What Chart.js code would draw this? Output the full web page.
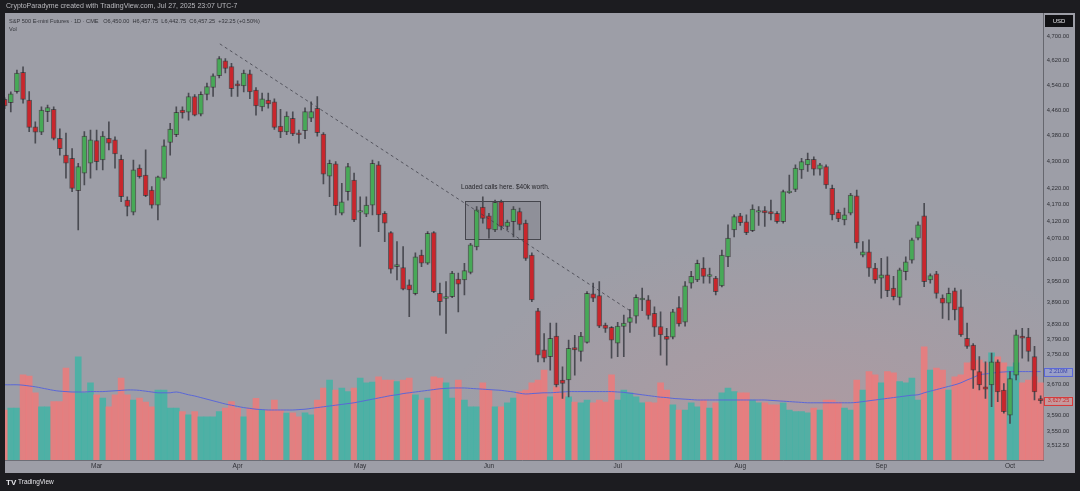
<!DOCTYPE html>
<html>
<head>
<meta charset="utf-8">
<script src="https://cdn.jsdelivr.net/npm/chart.js@4.4.1/dist/chart.umd.min.js"></script>
<style>
  html, body { margin: 0; padding: 0; background: #1c1c20; }
  canvas { display: block; }
</style>
</head>
<body>
<canvas id="chart" width="1080" height="491"></canvas>
<script>
// ─── DATA ────────────────────────────────────────────────────

// trading days (categories)
const days = [
  '2022-02-07','2022-02-08','2022-02-09','2022-02-10','2022-02-11','2022-02-14','2022-02-15','2022-02-16','2022-02-17','2022-02-18',
  '2022-02-22','2022-02-23','2022-02-24','2022-02-25','2022-02-28',
  '2022-03-01','2022-03-02','2022-03-03','2022-03-04','2022-03-07','2022-03-08','2022-03-09','2022-03-10','2022-03-11','2022-03-14',
  '2022-03-15','2022-03-16','2022-03-17','2022-03-18','2022-03-21','2022-03-22','2022-03-23','2022-03-24','2022-03-25','2022-03-28',
  '2022-03-29','2022-03-30','2022-03-31',
  '2022-04-01','2022-04-04','2022-04-05','2022-04-06','2022-04-07','2022-04-08','2022-04-11','2022-04-12','2022-04-13','2022-04-14',
  '2022-04-18','2022-04-19','2022-04-20','2022-04-21','2022-04-22','2022-04-25','2022-04-26','2022-04-27','2022-04-28','2022-04-29',
  '2022-05-02','2022-05-03','2022-05-04','2022-05-05','2022-05-06','2022-05-09','2022-05-10','2022-05-11','2022-05-12','2022-05-13',
  '2022-05-16','2022-05-17','2022-05-18','2022-05-19','2022-05-20','2022-05-23','2022-05-24','2022-05-25','2022-05-26','2022-05-27',
  '2022-05-31',
  '2022-06-01','2022-06-02','2022-06-03','2022-06-06','2022-06-07','2022-06-08','2022-06-09','2022-06-10','2022-06-13','2022-06-14',
  '2022-06-15','2022-06-16','2022-06-17','2022-06-21','2022-06-22','2022-06-23','2022-06-24','2022-06-27','2022-06-28','2022-06-29',
  '2022-06-30',
  '2022-07-01','2022-07-05','2022-07-06','2022-07-07','2022-07-08','2022-07-11','2022-07-12','2022-07-13','2022-07-14','2022-07-15',
  '2022-07-18','2022-07-19','2022-07-20','2022-07-21','2022-07-22','2022-07-25','2022-07-26','2022-07-27','2022-07-28','2022-07-29',
  '2022-08-01','2022-08-02','2022-08-03','2022-08-04','2022-08-05','2022-08-08','2022-08-09','2022-08-10','2022-08-11','2022-08-12',
  '2022-08-15','2022-08-16','2022-08-17','2022-08-18','2022-08-19','2022-08-22','2022-08-23','2022-08-24','2022-08-25','2022-08-26',
  '2022-08-29','2022-08-30','2022-08-31',
  '2022-09-01','2022-09-02','2022-09-06','2022-09-07','2022-09-08','2022-09-09','2022-09-12','2022-09-13','2022-09-14','2022-09-15',
  '2022-09-16','2022-09-19','2022-09-20','2022-09-21','2022-09-22','2022-09-23','2022-09-26','2022-09-27','2022-09-28','2022-09-29',
  '2022-09-30',
  '2022-10-03','2022-10-04','2022-10-05','2022-10-06','2022-10-07','2022-10-10'
];

const opens = [
  4495,4484,4520,4582,4493,4408,4391,4456,4463,4372, 4320,4310,4212,4265,4295,4365,4305,4372,4367,4307,
  4184,4148,4280,4259,4214,4169,4249,4359,4383,4461, 4454,4504,4448,4511,4533,4571,4620,4601,4545,4538,
  4577,4525,4471,4493,4487,4410,4392,4435,4389,4396, 4435,4466,4385,4256,4293,4145,4209,4244,4148,4142,
  4169,4290,4145,4088,3990,3988,3939,3914,4023,4000, 4088,3915,3901,3906,3955,3953,3974,4047,4163,4137,
  4096,4179,4106,4120,4150,4116,4023,3867,3761,3743, 3798,3681,3681,3767,3757,3781,3914,3909,3828,3822,
  3779,3824,3835,3852,3897,3897,3860,3824,3797,3795, 3876,3836,3944,3953,3986,3963,3958,3936,4018,4096,
  4137,4120,4094,4148,4153,4150,4145,4120,4206,4216, 4275,4290,4307,4277,4285,4219,4148,4125,4145,4197,
  4023,4033,3986,3958,3967,3930,3904,3976,4009,4072, 4137,3953,3970,3902,3888,3922,3878,3792,3774,3703,
  3663,3668,3729,3655,3590,3694,3798,3795,3743,3633
];
const highs = [
  4500,4519,4590,4600,4520,4424,4471,4477,4471,4402, 4388,4340,4295,4393,4398,4398,4393,4424,4377,4320,
  4194,4305,4290,4336,4224,4256,4367,4419,4471,4471, 4515,4510,4519,4547,4577,4634,4627,4612,4555,4590,
  4590,4533,4515,4515,4497,4463,4455,4455,4398,4468, 4487,4504,4390,4305,4300,4234,4295,4265,4194,4194,
  4305,4300,4150,4091,4062,4048,3953,4030,4038,4091, 4091,3944,3948,3977,3972,4000,4057,4165,4194,4145,
  4184,4184,4125,4165,4160,4125,4030,3874,3805,3833, 3833,3716,3787,3800,3808,3920,3944,3948,3833,3824,
  3835,3855,3871,3911,3930,3909,3878,3864,3819,3871, 3906,3948,3977,4009,4016,3986,3963,4038,4111,4140,
  4145,4140,4170,4165,4165,4184,4150,4214,4259,4290, 4310,4326,4315,4295,4290,4229,4155,4160,4204,4214,
  4062,4067,4000,4014,4018,3963,3986,4018,4072,4120, 4174,3970,3977,3911,3930,3930,3925,3833,3778,3743,
  3729,3752,3734,3672,3703,3814,3819,3819,3770,3640
];
const lows = [
  4465,4455,4515,4483,4393,4357,4383,4424,4367,4320, 4250,4209,4096,4229,4250,4275,4275,4336,4280,4179,
  4137,4140,4250,4194,4160,4125,4244,4320,4377,4435, 4429,4442,4442,4493,4504,4564,4580,4504,4504,4519,
  4497,4445,4458,4467,4400,4374,4383,4380,4357,4371, 4424,4379,4232,4194,4140,4140,4184,4120,4048,4135,
  4140,4091,4062,3972,3953,3925,3851,3911,3990,3997, 3917,3855,3805,3903,3864,3911,3970,4038,4116,4072,
  4091,4096,4096,4076,4096,4008,3892,3729,3729,3707, 3663,3633,3637,3694,3731,3779,3892,3821,3808,3739,
  3743,3743,3808,3833,3867,3844,3797,3747,3720,3790, 3825,3825,3930,3948,3944,3944,3911,3933,3990,4076,
  4109,4082,4091,4109,4106,4125,4116,4116,4204,4209, 4249,4270,4259,4259,4219,4125,4120,4111,4140,4043,
  4018,3963,3944,3902,3906,3897,3883,3953,4000,4067, 3934,3944,3902,3846,3842,3842,3797,3765,3659,3655,
  3633,3612,3625,3595,3569,3681,3739,3731,3629,3620
];
const closes = [
  4474,4513,4580,4495,4406,4391,4461,4469,4372,4340, 4295,4219,4285,4379,4367,4300,4379,4357,4324,4194,
  4165,4275,4254,4197,4169,4254,4349,4401,4454,4452, 4504,4445,4511,4536,4571,4627,4595,4529,4538,4580,
  4519,4474,4497,4480,4406,4392,4442,4386,4383,4456, 4456,4390,4262,4295,4167,4179,4285,4125,4153,4169,
  4295,4140,4116,3983,3996,3927,3925,4018,4000,4086, 3920,3892,3906,3972,3941,3979,4053,4155,4130,4098,
  4177,4106,4119,4157,4112,4014,3897,3747,3739,3792, 3668,3672,3765,3761,3798,3915,3902,3825,3819,3787,
  3825,3833,3848,3904,3902,3854,3822,3801,3789,3864, 3831,3936,3963,4000,3963,3968,3920,4023,4072,4135,
  4117,4088,4157,4153,4146,4143,4120,4209,4211,4280, 4300,4307,4277,4290,4229,4140,4128,4140,4199,4058,
  4033,3986,3953,3967,3923,3906,3981,4004,4067,4111, 3948,3965,3915,3888,3915,3869,3801,3770,3707,3668,
  3657,3729,3650,3599,3685,3801,3792,3757,3650,3627.25
];

// volume, millions
const volumes = [
  1.25,1.30,1.30,2.13,2.10,1.68,1.33,1.33,1.46,1.46, 2.30,1.68,2.58,1.68,1.93,1.63,1.55,1.33,1.63,2.05,
  1.63,1.50,1.55,1.45,1.33,1.75,1.75,1.30,1.30,1.21, 1.13,1.21,1.08,1.08,1.08,1.21,1.30,1.46,1.30,1.08,
  1.30,1.54,1.25,1.25,1.50,1.25,1.17,1.18,1.08,1.18, 1.13,1.50,1.80,2.00,1.75,1.80,1.71,1.80,2.05,1.93,
  1.95,2.08,2.00,2.00,1.96,2.00,2.05,1.63,1.50,1.55, 2.08,2.05,1.93,1.55,2.00,1.50,1.33,1.33,1.93,1.75,
  1.33,1.33,1.43,1.55,1.71,1.75,1.93,2.00,2.25,1.58, 1.83,1.68,1.58,1.45,1.43,1.50,1.43,1.50,1.45,2.13,
  1.50,1.75,1.68,1.58,1.43,1.45,1.43,1.93,1.75,1.38, 1.25,1.25,1.43,1.33,1.50,1.30,1.43,1.68,1.80,1.71,
  1.68,1.68,1.50,1.43,1.43,1.38,1.38,1.43,1.25,1.21, 1.21,1.18,1.30,1.25,1.50,1.50,1.45,1.30,1.25,2.00,
  1.75,2.21,2.13,1.93,2.21,2.18,1.96,1.93,2.05,1.50, 2.83,2.25,2.30,2.25,1.75,2.08,2.13,2.43,2.46,2.50,
  2.43,2.68,2.58,2.43,2.33,2.43,1.93,2.00,2.08,1.93
];
// volume moving average, millions
const volMA = [
  1.88,1.88,1.88,1.87,1.85,1.83,1.80,1.77,1.74,1.72, 1.71,1.70,1.70,1.70,1.71,1.71,1.71,1.72,1.73,1.74,
  1.75,1.75,1.74,1.72,1.70,1.68,1.68,1.68,1.70,1.67, 1.63,1.60,1.56,1.52,1.48,1.44,1.40,1.37,1.34,1.31,
  1.29,1.27,1.26,1.25,1.25,1.25,1.25,1.25,1.26,1.27, 1.29,1.31,1.33,1.35,1.37,1.39,1.41,1.43,1.46,1.49,
  1.52,1.55,1.58,1.61,1.63,1.66,1.68,1.70,1.72,1.74, 1.76,1.78,1.79,1.80,1.80,1.80,1.79,1.78,1.77,1.76,
  1.75,1.74,1.72,1.70,1.67,1.65,1.66,1.67,1.68,1.68, 1.69,1.70,1.71,1.71,1.71,1.71,1.71,1.71,1.71,1.71,
  1.70,1.69,1.67,1.65,1.63,1.61,1.59,1.57,1.56,1.54, 1.53,1.52,1.51,1.50,1.50,1.50,1.50,1.50,1.50,1.50,
  1.50,1.50,1.50,1.50,1.50,1.49,1.48,1.47,1.46,1.45, 1.44,1.43,1.43,1.43,1.43,1.43,1.43,1.43,1.43,1.44,
  1.46,1.48,1.50,1.52,1.54,1.56,1.58,1.60,1.62,1.63, 1.68,1.72,1.76,1.80,1.84,1.88,1.93,2.00,2.06,2.13,
  2.15,2.17,2.19,2.20,2.21,2.21,2.21,2.21,2.21,2.21
];

// price-scale tick labels (log scale)
const priceTicks = [4700, 4620, 4540, 4460, 4380, 4300, 4220, 4170, 4120, 4070,
                    4010, 3950, 3890, 3830, 3790, 3750, 3670, 3590, 3550, 3512.5];
const monthNames = ['Jan','Feb','Mar','Apr','May','Jun','Jul','Aug','Sep','Oct','Nov','Dec'];

// drawings: trend line and the "calls" box (bar index, price)
const trendX = [35.1, 102.3];
const trendY = [4676, 3864];
const boxX = [75.1, 87.3];
const boxY = [4070, 4181];
const noteText = 'Loaded calls here. $40k worth.';

const headerText = 'CryptoParadyme created with TradingView.com, Jul 27, 2025 23:07 UTC-7';
const legendText = 'S&P 500 E-mini Futures · 1D · CME   O6,450.00  H6,457.75  L6,442.75  C6,457.25  +32.25 (+0.50%)';

// ─── STYLE ───────────────────────────────────────────────────

const UP    = '#47a957';
const DOWN  = '#c9262c';
const VOL_UP   = 'rgba(60,180,165,0.80)';
const VOL_DOWN = 'rgba(242,120,120,0.80)';
const MA_COLOR = '#5a67d8';
const BG_DARK  = '#1c1c20';
const BG_PANE  = '#9d9ea7';
const TEXT     = '#2f3036';
const FONT     = "'Liberation Sans', Arial, sans-serif";

// ─── BUILD ───────────────────────────────────────────────────

const idx  = days.map((_, i) => i);
const isUp = idx.map(i => closes[i] >= opens[i]);
const monthStarts = idx.filter(i => i > 0 && days[i].slice(5, 7) !== days[i - 1].slice(5, 7));

const fmtPrice = v => v.toLocaleString('en-US', { minimumFractionDigits: 2, maximumFractionDigits: 2 });

const frame = {
    id: 'frame',
    beforeDraw(chart) {
        const { ctx, width, height } = chart;
        ctx.save();
        ctx.fillStyle = BG_DARK;
        ctx.fillRect(0, 0, width, height);
        ctx.fillStyle = BG_PANE;
        ctx.fillRect(5, 13, 1070, 460);

        // faint reddish haze above the heavy-volume half of the pane
        ctx.beginPath();
        ctx.rect(5, 13, 1038, 447);
        ctx.clip();
        ctx.translate(800, 430);
        ctx.scale(1.9, 1);
        const g = ctx.createRadialGradient(0, 0, 0, 0, 0, 190);
        g.addColorStop(0, 'rgba(235,140,140,0.22)');
        g.addColorStop(1, 'rgba(235,140,140,0)');
        ctx.fillStyle = g;
        ctx.fillRect(-200, -200, 400, 400);
        ctx.restore();
    },
    beforeDatasetsDraw(chart) {
        // the rectangle drawing around the consolidation
        const { ctx, scales: { x, y } } = chart;
        const x0 = x.getPixelForValue(boxX[0]), x1 = x.getPixelForValue(boxX[1]);
        const y0 = y.getPixelForValue(boxY[1]), y1 = y.getPixelForValue(boxY[0]);
        ctx.save();
        ctx.fillStyle = 'rgba(95,95,105,0.22)';
        ctx.fillRect(x0, y0, x1 - x0, y1 - y0);
        ctx.strokeStyle = 'rgba(55,55,62,0.85)';
        ctx.lineWidth = 1;
        ctx.strokeRect(Math.round(x0) + 0.5, Math.round(y0) + 0.5, Math.round(x1 - x0), Math.round(y1 - y0));
        ctx.fillStyle = '#26262b';
        ctx.font = `6.5px ${FONT}`;
        ctx.textAlign = 'left';
        ctx.textBaseline = 'middle';
        ctx.fillText(noteText, x0 - 4, y0 - 14);
        ctx.restore();
    },
    afterDraw(chart) {
        const { ctx, width, height, scales: { y, yVol } } = chart;
        ctx.save();
        // dark frame around the pane
        ctx.fillStyle = BG_DARK;
        ctx.fillRect(0, 0, width, 13);
        ctx.fillRect(0, 0, 5, height);
        ctx.fillRect(0, 473, width, height - 473);
        ctx.fillRect(1075, 0, width - 1075, height);

        ctx.textBaseline = 'middle';
        ctx.textAlign = 'left';
        ctx.fillStyle = '#b9b9be';
        ctx.font = `7px ${FONT}`;
        ctx.fillText(headerText, 6, 6.5);

        ctx.fillStyle = '#33343a';
        ctx.font = `5.6px ${FONT}`;
        ctx.fillText(legendText, 9, 21);
        ctx.fillText('Vol', 9, 29);

        // footer logo
        ctx.fillStyle = '#e4e4e8';
        ctx.font = `bold 8px ${FONT}`;
        ctx.fillText('TV', 6, 482.5);
        ctx.font = `6.5px ${FONT}`;
        ctx.fillText('TradingView', 18, 482.5);

        // currency badge
        ctx.fillStyle = '#111114';
        ctx.fillRect(1045, 15, 28, 12);
        ctx.fillStyle = '#e6e6ea';
        ctx.font = `6px ${FONT}`;
        ctx.textAlign = 'center';
        ctx.fillText('USD', 1059, 21);

        // last-value labels on the price scale
        const maY = yVol.getPixelForValue(volMA[volMA.length - 1]);
        ctx.fillStyle = 'rgba(150,160,230,0.55)';
        ctx.fillRect(1044, maY - 4, 29, 8);
        ctx.strokeStyle = MA_COLOR;
        ctx.strokeRect(1044.5, Math.round(maY - 4) + 0.5, 28, 8);
        ctx.fillStyle = '#3a44a8';
        ctx.font = `5.5px ${FONT}`;
        ctx.fillText(volMA[volMA.length - 1].toFixed(3) + 'M', 1058.5, maY);

        const lastY = y.getPixelForValue(closes[closes.length - 1]);
        ctx.fillStyle = 'rgba(235,150,150,0.55)';
        ctx.fillRect(1044, lastY - 4, 29, 8);
        ctx.strokeStyle = '#d83a3a';
        ctx.strokeRect(1044.5, Math.round(lastY - 4) + 0.5, 28, 8);
        ctx.fillStyle = '#c42a2a';
        ctx.fillText(fmtPrice(closes[closes.length - 1]), 1058.5, lastY);
        ctx.restore();
    }
};

new Chart(document.getElementById('chart'), {
    type: 'bar',
    data: {
        datasets: [
            {
                type: 'line',
                label: 'Trend',
                data: trendX.map((v, k) => ({ x: v, y: trendY[k] })),
                borderColor: 'rgba(60,60,70,0.75)',
                borderWidth: 1,
                borderDash: [3, 3],
                pointRadius: 0,
                yAxisID: 'y',
                order: 0,
            },
            {
                label: 'Body',
                data: idx.map(i => ({ x: i, y: [Math.min(opens[i], closes[i]), Math.max(opens[i], closes[i])] })),
                backgroundColor: idx.map(i => isUp[i] ? UP : DOWN),
                borderColor: 'rgba(35,30,30,0.55)',
                borderWidth: 1,
                borderSkipped: false,
                barThickness: 5,
                grouped: false,
                yAxisID: 'y',
                order: 1,
            },
            {
                label: 'Wick',
                data: idx.map(i => ({ x: i, y: [lows[i], highs[i]] })),
                backgroundColor: '#4a4b52',
                barThickness: 1,
                grouped: false,
                yAxisID: 'y',
                order: 2,
            },
            {
                type: 'line',
                label: 'Vol MA',
                data: idx.map(i => ({ x: i, y: volMA[i] })),
                borderColor: MA_COLOR,
                borderWidth: 1,
                pointRadius: 0,
                tension: 0.4,
                yAxisID: 'yVol',
                order: 3,
            },
            {
                label: 'Vol',
                data: idx.map(i => ({ x: i, y: volumes[i] })),
                backgroundColor: idx.map(i => isUp[i] ? VOL_UP : VOL_DOWN),
                barThickness: 6,
                grouped: false,
                yAxisID: 'yVol',
                order: 4,
            },
        ],
    },
    options: {
        responsive: false,
        animation: false,
        events: [],
        layout: { padding: { left: 1.6, right: 5, top: 13.5, bottom: 18 } },
        plugins: { legend: { display: false }, tooltip: { enabled: false } },
        scales: {
            x: {
                type: 'linear',
                min: -0.5,
                max: days.length - 0.5,
                offset: false,
                grid: { display: false, drawTicks: false },
                border: { display: true, color: '#6d6e76' },
                afterBuildTicks: s => { s.ticks = monthStarts.map(v => ({ value: v })); },
                afterFit: s => { s.height = 13; },
                ticks: {
                    autoSkip: false,
                    maxRotation: 0,
                    padding: 2,
                    color: TEXT,
                    font: { family: FONT, size: 6.5 },
                    callback: v => monthNames[Number(days[v].slice(5, 7)) - 1],
                },
            },
            y: {
                type: 'logarithmic',
                position: 'right',
                min: 3477.3,
                max: 4778.2,
                grid: { display: false, drawTicks: false },
                border: { display: true, color: '#66676e' },
                afterBuildTicks: s => { s.ticks = priceTicks.map(v => ({ value: v })); },
                afterFit: s => { s.width = 31.3; },
                ticks: {
                    autoSkip: false,
                    padding: 3,
                    color: TEXT,
                    font: { family: FONT, size: 5.8 },
                    callback: v => fmtPrice(v),
                },
            },
            yVol: {
                type: 'linear',
                display: false,
                min: 0,
                max: 11.16,
            },
        },
    },
    plugins: [frame],
});
</script>
</body>
</html>
